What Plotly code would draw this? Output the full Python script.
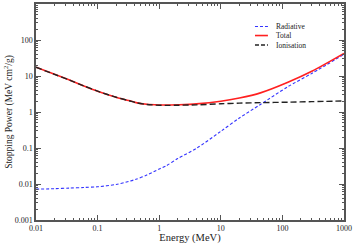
import plotly.graph_objects as go

# Data (energy in MeV, stopping power in MeV cm^2/g)
energy = [0.01, 0.02, 0.035, 0.06, 0.1, 0.2, 0.32, 0.42, 0.63, 1, 1.3, 2, 4,
          10, 20, 44, 123, 300, 1000]
ionisation = [17.5, 11.1, 7.7, 5.3, 3.8, 2.57, 2.07, 1.81, 1.62, 1.54, 1.53, 1.54, 1.58,
              1.69, 1.76, 1.82, 1.87, 1.94, 2.02]
radiative = [0.0072, 0.0074, 0.0077, 0.0080, 0.0084, 0.0097, 0.0118, 0.0135, 0.0178, 0.026,
             0.032, 0.051, 0.097, 0.29, 0.68, 1.62, 5.05, 11.8, 40]
total = [17.5, 11.1, 7.7, 5.3, 3.8, 2.58, 2.08, 1.82, 1.64, 1.57, 1.56, 1.59, 1.68,
         1.98, 2.44, 3.4, 6.7, 13.5, 42.5]

x_tickvals = [0.01, 0.1, 1, 10, 100, 1000]
x_ticktext = ["0.01", "0.1", "1", "10", "100", "1000"]
y_tickvals = [0.001, 0.01, 0.1, 1, 10, 100, 1000]
y_ticktext = ["0.001", "0.01", "0.1", "1", "10", "100", "1000"]

legend_names = ["Radiative", "Total", "Ionisation"]

FONT = "Liberation Serif"
AXC = "#555555"

fig = go.Figure()
fig.add_trace(go.Scatter(x=energy, y=radiative, mode="lines", name=legend_names[0],
                         line=dict(color="#3333ff", width=1.1, dash="3px,2px",
                                   shape="spline", smoothing=0.8),
                         showlegend=False))
fig.add_trace(go.Scatter(x=energy, y=total, mode="lines", name=legend_names[1],
                         line=dict(color="#ff2020", width=1.6, shape="spline", smoothing=0.8),
                         showlegend=False))
fig.add_trace(go.Scatter(x=energy, y=ionisation, mode="lines", name=legend_names[2],
                         line=dict(color="#222222", width=1.4, dash="6px,3px",
                                   shape="spline", smoothing=0.8),
                         showlegend=False))

axis_common = dict(
    type="log", showgrid=False, zeroline=False, automargin=False,
    showline=True, linecolor=AXC, linewidth=1.5, mirror="ticks",
    ticks="inside", ticklen=5, tickwidth=1, tickcolor=AXC,
    tickfont=dict(family=FONT, size=8, color="#222"),
    minor=dict(ticks="inside", ticklen=2.5, tickwidth=1, tickcolor=AXC,
               showgrid=False, dtick="D1"),
)

fig.update_xaxes(**axis_common, range=[-2, 3], tickvals=x_tickvals, ticktext=x_ticktext,
                 title=dict(text="Energy (MeV)", font=dict(family=FONT, size=10.5, color="#222"),
                            standoff=0))
fig.update_yaxes(**axis_common, range=[-3, 3], tickvals=y_tickvals, ticktext=y_ticktext,
                 title=dict(text="Stopping Power (MeV cm<sup>2</sup>/g)",
                            font=dict(family=FONT, size=9.5, color="#222"), standoff=0))

# Manual compact legend (paper coordinates)
leg_rows = [0.896, 0.854, 0.81]
leg_styles = [dict(color="#3333ff", width=1.1, dash="3px,2px"),
              dict(color="#ff2020", width=1.6),
              dict(color="#222222", width=1.4, dash="4px,2px")]
for name, yy, st in zip(legend_names, leg_rows, leg_styles):
    fig.add_shape(type="line", xref="paper", yref="paper", x0=0.711, x1=0.753, y0=yy, y1=yy,
                  line=st)
    fig.add_annotation(xref="paper", yref="paper", x=0.773, y=yy, text=name, showarrow=False,
                       xanchor="left", yanchor="middle",
                       font=dict(family=FONT, size=7.5, color="#222"))

fig.update_layout(
    width=354, height=244,
    margin=dict(l=36, r=10, t=4, b=24),
    paper_bgcolor="white", plot_bgcolor="white",
    font=dict(family=FONT),
)

fig.write_html("out.html", config={"displayModeBar": False},
               post_script="document.body.style.margin='0';document.body.style.overflow='hidden';")
